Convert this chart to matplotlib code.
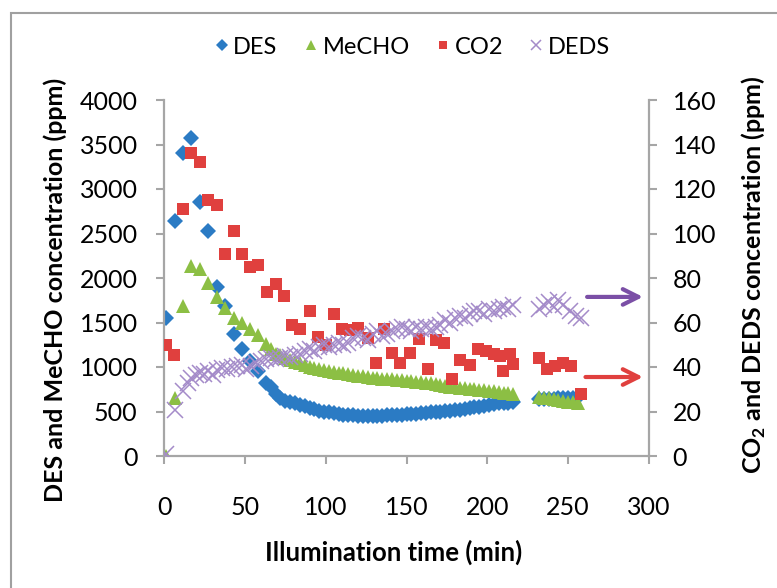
import matplotlib
matplotlib.use("Agg")
import matplotlib.pyplot as plt
from matplotlib.patches import Rectangle

plt.rcParams['font.family'] = ['Lato', 'DejaVu Sans']
plt.rcParams['mathtext.fontset'] = 'custom'
plt.rcParams['mathtext.rm'] = 'Lato'
plt.rcParams['mathtext.bf'] = 'Lato:bold'

# DES (left axis, ppm)
t_des = [1, 7, 12, 17, 22, 27, 33, 38, 43, 48, 53, 58, 63, 66, 69, 72, 75, 78, 81, 84,
         87, 90, 93, 96, 99, 102, 105, 108, 111, 114, 117, 120, 123, 126, 129, 132, 135,
         138, 141, 144, 147, 150, 153, 156, 159, 162, 165, 168, 171, 174, 177, 180, 183,
         186, 189, 192, 195, 198, 201, 204, 207, 210, 213, 216,
         232, 235, 238, 241, 244, 247, 250, 253, 256]
des = [1550, 2640, 3400, 3570, 2850, 2530, 1900, 1680, 1370, 1200, 1070, 950, 820, 780,
       700, 650, 620, 610, 590, 570, 560, 540, 530, 510, 500, 490, 480, 470, 465, 460,
       460, 455, 455, 450, 450, 455, 455, 460, 460, 465, 465, 470, 470, 475, 480, 485,
       490, 495, 500, 505, 510, 515, 520, 525, 535, 545, 555, 565, 575, 585, 590, 595,
       600, 605,
       640, 640, 645, 645, 650, 650, 655, 655, 660]

# MeCHO (left axis, ppm)
t_mecho = t_des
mecho = [0, 650, 1680, 2140, 2100, 1940, 1790, 1660, 1550, 1490, 1430, 1360, 1260, 1200,
         1150, 1130, 1100, 1080, 1060, 1040, 1020, 1000, 990, 975, 965, 955, 945, 935,
         930, 920, 910, 900, 895, 890, 880, 875, 870, 865, 860, 855, 850, 845, 840, 835,
         830, 825, 815, 805, 795, 790, 780, 775, 765, 760, 755, 750, 745, 740, 735, 725,
         715, 710, 705, 700,
         660, 655, 650, 640, 630, 620, 610, 605, 600]

# CO2 (right axis, ppm)
t_co2 = [1, 6, 12, 17, 22, 27, 33, 38, 43, 48, 53, 58, 64, 69, 74, 79, 84, 90, 95, 100,
         105, 110, 115, 120, 126, 131, 136, 141, 146, 152, 158, 163, 168, 173, 178, 183,
         189, 194, 199, 204, 208, 210, 214, 216,
         232, 237, 242, 247, 252, 258]
co2 = [50, 45.5, 111, 136, 132, 115, 113, 91, 101, 91, 85, 86, 73.5, 77.5, 72, 59, 57,
       65, 53.6, 50, 64, 57, 56.5, 57.7, 53, 42, 57, 46.5, 42, 46.5, 52.6, 39, 52, 50.8,
       34.4, 43, 41, 48, 47, 46, 45, 38, 46, 41.5,
       44, 39, 40.6, 42, 40.3, 28]

# DEDS (right axis, ppm)
t_deds = [1, 7, 12, 15, 17, 20, 22, 25, 27, 30, 33, 36, 39, 42, 45, 48, 51, 54, 57, 60,
          63, 66, 69, 72, 75, 78, 81, 84, 87, 90, 93, 96, 99, 102, 105, 108, 111, 114,
          117, 120, 123, 126, 129, 132, 135, 138, 141, 144, 147, 150, 153, 156, 159, 162,
          165, 168, 171, 174, 177, 180, 183, 186, 189, 192, 195, 198, 201, 204, 207, 210,
          213, 216,
          232, 235, 238, 241, 244, 247, 251, 255, 258]
deds = [1, 20.5, 29, 33, 35, 36.5, 37.5, 37, 38, 36.5, 38.5, 39.5, 39, 40, 40.5, 41, 39,
        40.5, 42, 42.5, 43.5, 44, 43.5, 44, 45, 44.5, 45.5, 46, 47, 48, 47, 49, 50, 49,
        50, 51, 50, 51, 53, 54, 53, 52, 55, 56, 54, 55, 56, 57, 58, 57, 56, 58, 57, 58,
        57, 58, 59, 61, 60, 62, 63, 62, 64, 65, 65, 64, 66, 65, 66, 67, 66, 68,
        66, 68, 69, 67, 70, 68, 65, 63, 62]

x_ticks = [0, 50, 100, 150, 200, 250, 300]
left_ticks = [0, 500, 1000, 1500, 2000, 2500, 3000, 3500, 4000]
right_ticks = [0, 20, 40, 60, 80, 100, 120, 140, 160]

c_des = '#2b7bc4'
c_mecho = '#8cbf44'
c_co2 = '#e0403e'
c_deds = '#a48bc9'
c_axis = '#a6a6a6'

fig = plt.figure(figsize=(7.77, 5.88), dpi=100)
ax = fig.add_axes([164 / 777, 1 - 456 / 588, 485 / 777, 356 / 588])
ax2 = ax.twinx()

h1, = ax.plot(t_des, des, 'D', color=c_des, ms=8.5, mew=0, label='DES')
h2, = ax.plot(t_mecho, mecho, '^', color=c_mecho, ms=10, mew=0, label='MeCHO')
h3, = ax2.plot(t_co2, co2, 's', color=c_co2, ms=8, mew=0, label='CO2')
h4, = ax2.plot(t_deds, deds, 'x', color=c_deds, ms=11, mew=1.1, label='DEDS')

ax.set_xlim(0, 300)
ax.set_ylim(0, 4000)
ax2.set_ylim(0, 160)
ax.set_xticks(x_ticks)
ax.set_yticks(left_ticks)
ax2.set_yticks(right_ticks)

for a in (ax, ax2):
    a.spines['top'].set_visible(False)
    for s in a.spines.values():
        s.set_color(c_axis)
        s.set_linewidth(1.6)
ax.spines['right'].set_visible(False)
ax2.spines['left'].set_visible(False)
ax2.spines['bottom'].set_visible(False)

ax.tick_params(axis='x', direction='out', length=6, width=1.5, color=c_axis,
               labelsize=18, pad=23)
ax.tick_params(axis='y', direction='out', length=6, width=1.5, color=c_axis,
               labelsize=18, pad=13)
ax2.tick_params(axis='y', direction='out', length=6, width=1.5, color=c_axis,
                labelsize=18, pad=11)

ax.set_xlabel('Illumination time (min)', fontsize=18.5, fontweight='bold')
ax.xaxis.set_label_coords((394 - 164) / 485, -(540 - 456) / 356)
ax.set_ylabel('DES and MeCHO concentration (ppm)', fontsize=18, fontweight='bold')
ax.yaxis.set_label_coords(-(164 - 67) / 485, (456 - 290) / 356)
ax2.set_ylabel(r'CO$_\mathbf{2}$ and DEDS concentration (ppm)', fontsize=18,
               fontweight='bold')
ax2.yaxis.set_label_coords(1 + (740 - 649) / 485, (456 - 275) / 356)

# arrows pointing to the right axis
ax2.annotate('', xy=(298, 71.5), xytext=(260, 71.5),
             arrowprops=dict(arrowstyle='->', color='#7b4fa6', lw=3,
                             mutation_scale=28), annotation_clip=False)
ax2.annotate('', xy=(298, 35.5), xytext=(259, 35.5),
             arrowprops=dict(arrowstyle='->', color=c_co2, lw=3,
                             mutation_scale=28), annotation_clip=False)

leg = fig.legend(handles=[h1, h2, h3, h4], loc='center', bbox_to_anchor=(410 / 777, 1 - 47 / 588),
                 ncol=4, frameon=False, fontsize=17, handletextpad=0.0,
                 columnspacing=0.9, markerscale=0.7, handlelength=1.0)

# chart area border
fig.patches.append(Rectangle((11 / 777, -0.1), 1.0, 1 - 13 / 588 + 0.1,
                             transform=fig.transFigure, fill=False,
                             edgecolor='#a0a0a0', lw=1.5))

fig.savefig('out.png', dpi=100)
